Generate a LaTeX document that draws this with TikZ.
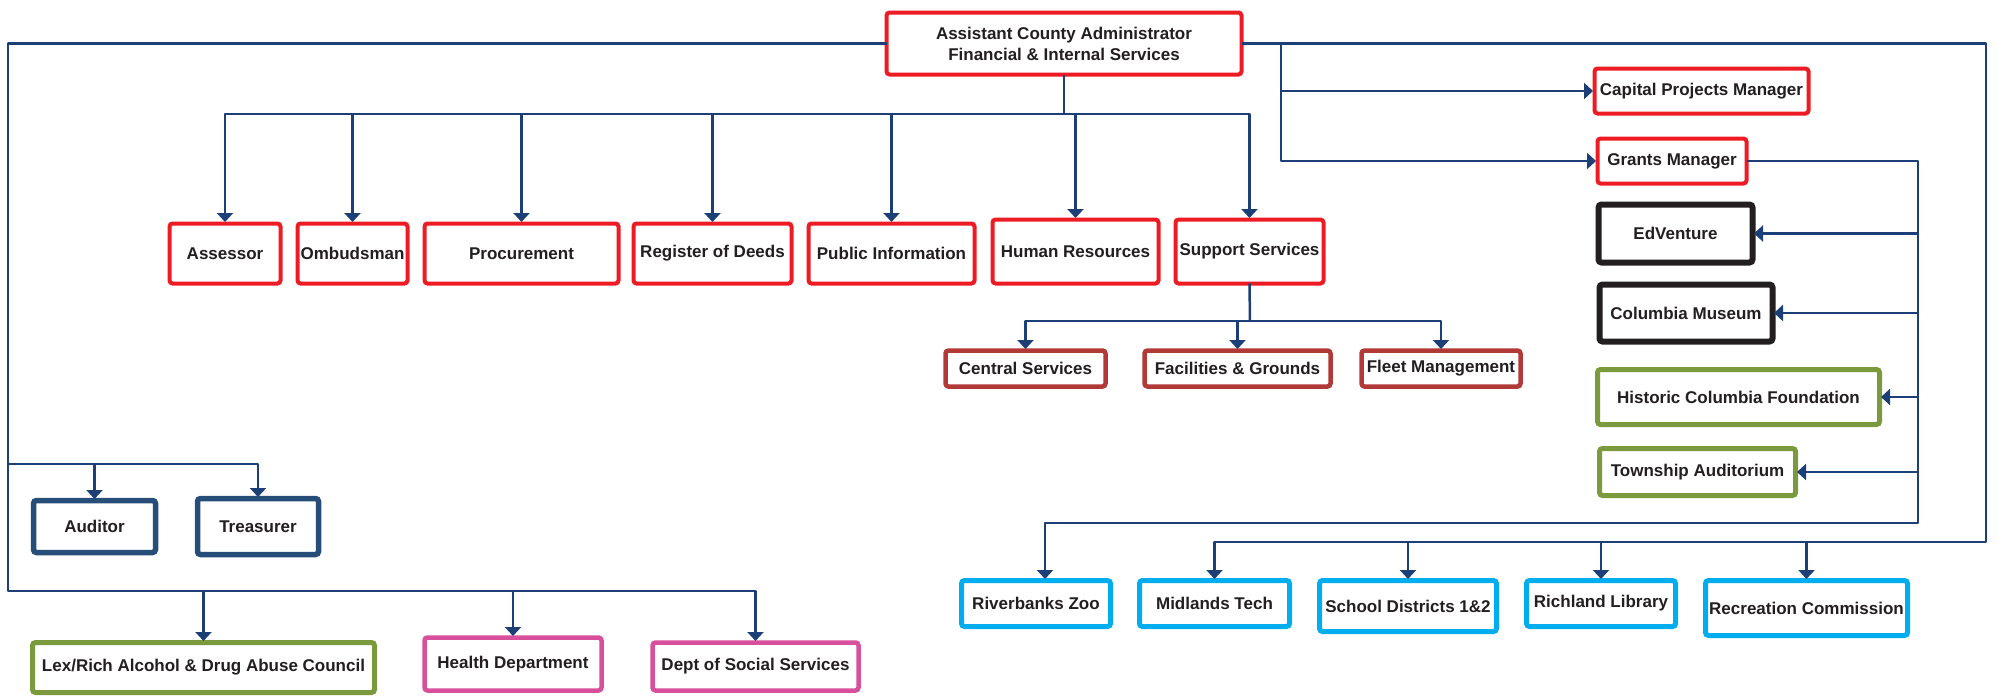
\documentclass[tikz,border=0pt]{standalone}
\usepackage{fontspec}
\setmainfont{Liberation Sans}
\usetikzlibrary{arrows.meta}
\definecolor{cred}{RGB}{237,28,36}
\definecolor{cbrown}{RGB}{177,58,54}
\definecolor{cblack}{RGB}{35,31,32}
\definecolor{cnavy}{RGB}{38,78,120}
\definecolor{cgreen}{RGB}{123,154,62}
\definecolor{cpink}{RGB}{216,80,155}
\definecolor{ccyan}{RGB}{0,174,239}
\definecolor{cline}{RGB}{28,63,120}
\definecolor{ctext}{RGB}{35,31,32}
\tikzset{
  orgnode/.style={draw, fill=white, rounded corners=3pt, inner sep=0pt, outer sep=0pt,
    align=center, text=ctext, font=\fontsize{17}{21}\selectfont\bfseries},
  redbox/.style={orgnode, draw=cred, line width=4pt},
  brownbox/.style={orgnode, draw=cbrown, line width=4.5pt},
  blackbox/.style={orgnode, draw=cblack, line width=6pt},
  navybox/.style={orgnode, draw=cnavy, line width=5.5pt},
  greenbox/.style={orgnode, draw=cgreen, line width=5pt},
  pinkbox/.style={orgnode, draw=cpink, line width=4.5pt},
  cyanbox/.style={orgnode, draw=ccyan, line width=5pt},
  conn/.style={draw=cline, line width=2.5pt, line join=round},
  arr/.style={conn, -{Triangle[width=16pt,length=9pt]}, shorten >=1.5pt},
}
\newcommand{\orgbox}[7]{%
  \node[#6, minimum width={#4-#2-5}, minimum height={#5-#3-5}] (#1) at ({(#2+#4)/2},{(#3+#5)/2}) {#7};}
\begin{document}
\begin{tikzpicture}[x=1pt,y=-1pt]
\useasboundingbox (0,0) rectangle (1998,696);
% boxes
\orgbox{top}{884}{10}{1244}{77}{redbox}{Assistant County Administrator\\Financial \& Internal Services}
\orgbox{assessor}{167}{221}{283}{286}{redbox}{Assessor}
\orgbox{ombud}{295}{221}{410}{286}{redbox}{Ombudsman}
\orgbox{procure}{422}{221}{621}{286}{redbox}{Procurement}
\orgbox{deeds}{631}{221}{794}{286}{redbox}{Register of Deeds}
\orgbox{pubinfo}{806}{221}{977}{286}{redbox}{Public Information}
\orgbox{hr}{990}{217}{1161}{286}{redbox}{Human Resources}
\orgbox{support}{1173}{217}{1326}{286}{redbox}{Support Services}
\orgbox{central}{943}{348}{1108}{389}{brownbox}{Central Services}
\orgbox{fac}{1142}{348}{1333}{389}{brownbox}{Facilities \& Grounds}
\orgbox{fleet}{1359}{348}{1523}{389}{brownbox}{Fleet Management}
\orgbox{capital}{1592}{66}{1811}{116}{redbox}{Capital Projects Manager}
\orgbox{grants}{1595}{136}{1749}{186}{redbox}{Grants Manager}
\orgbox{edv}{1596}{202}{1755}{265}{blackbox}{EdVenture}
\orgbox{colmus}{1597}{282}{1775}{344}{blackbox}{Columbia Museum}
\orgbox{hist}{1595}{367}{1882}{427}{greenbox}{Historic Columbia Foundation}
\orgbox{town}{1597}{446}{1798}{498}{greenbox}{Township Auditorium}
\orgbox{zoo}{959}{578}{1113}{629}{cyanbox}{Riverbanks Zoo}
\orgbox{midl}{1137}{578}{1292}{629}{cyanbox}{Midlands Tech}
\orgbox{school}{1317}{578}{1499}{634}{cyanbox}{School Districts 1\&2}
\orgbox{rich}{1524}{578}{1678}{629}{cyanbox}{Richland Library}
\orgbox{rec}{1703}{578}{1910}{638}{cyanbox}{Recreation Commission}
\orgbox{aud}{31}{498}{158}{555}{navybox}{Auditor}
\orgbox{treas}{195}{496}{321}{557}{navybox}{Treasurer}
\orgbox{lex}{30}{640}{377}{695}{greenbox}{Lex/Rich Alcohol \& Drug Abuse Council}
\orgbox{health}{422}{635}{604}{693}{pinkbox}{Health Department}
\orgbox{dss}{650}{640}{861}{693}{pinkbox}{Dept of Social Services}
% junction coordinates
\coordinate (hb) at (1064,114);
\coordinate (lb) at (8,591);
\coordinate (la) at (8,464);
\coordinate (ss) at (1250,321);
\coordinate (rv) at (1281,43);
\coordinate (rb) at (1986,542);
\coordinate (gb) at (1918,523);
% top box down to the row of departments
\draw[conn] (top.south) -- (hb);
\draw[arr] (hb) -| (assessor.north);
\draw[arr] (hb) -| (support.north);
\foreach \n in {ombud,procure,deeds,pubinfo,hr}
  \draw[arr] (\n.north |- hb) -- (\n.north);
% support services children
\draw[conn] (support.south) -- (ss);
\draw[arr] (ss) -| (central.north);
\draw[arr] (ss) -| (fleet.north);
\draw[arr] (fac.north |- ss) -- (fac.north);
% left branch
\draw[arr] (top.west) -| (lb) -| (dss.north);
\draw[arr] (lex.north |- lb) -- (lex.north);
\draw[arr] (health.north |- lb) -- (health.north);
\draw[arr] (la) -| (treas.north);
\draw[arr] (aud.north |- la) -- (aud.north);
% right branch
\draw[arr] (top.east) -| (rb) -| (midl.north);
\foreach \n in {school,rich,rec}
  \draw[arr] (\n.north |- rb) -- (\n.north);
\draw[arr] (rv) |- (grants.west);
\draw[arr] (rv |- capital.west) -- (capital.west);
% grants manager
\draw[arr] (grants.east) -| (gb) -| ([xshift=9pt]zoo.north);
\foreach \n in {edv,colmus,hist,town}
  \draw[arr] (\n.east -| gb) -- (\n.east);
\end{tikzpicture}
\end{document}
